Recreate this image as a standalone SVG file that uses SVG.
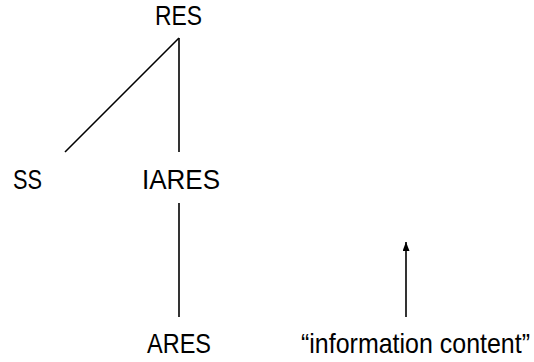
<svg xmlns="http://www.w3.org/2000/svg" width="534" height="362" viewBox="0 0 534 362">
<style>
text{font-family:"Liberation Sans",Arial,sans-serif;font-size:28px;fill:#000}
.c{stroke:#000;stroke-width:1.6;fill:none}
</style>
<defs>
<marker id="ah" markerWidth="10" markerHeight="10" refX="9" refY="3.5" orient="auto" markerUnits="userSpaceOnUse">
<path d="M0,0 L9,3.5 L0,7 Z" fill="#000"/>
</marker>
</defs>
<rect width="534" height="362" fill="#fff"/>
<g id="connectors">
<line class="c" x1="179" y1="38" x2="65" y2="152"/>
<line class="c" x1="179" y1="38" x2="179" y2="152"/>
<line class="c" x1="179" y1="203" x2="179" y2="317"/>
<line class="c" x1="406" y1="317" x2="406" y2="242" marker-end="url(#ah)"/>
</g>
<g id="RES"><text x="155" y="25" textLength="47" lengthAdjust="spacingAndGlyphs">RES</text></g>
<g id="SS"><text x="13" y="189" textLength="29" lengthAdjust="spacingAndGlyphs">SS</text></g>
<g id="IARES"><text x="142" y="189" textLength="78" lengthAdjust="spacingAndGlyphs">IARES</text></g>
<g id="ARES"><text x="147" y="353" textLength="64" lengthAdjust="spacingAndGlyphs">ARES</text></g>
<g id="info"><text x="301" y="353" textLength="229" lengthAdjust="spacingAndGlyphs">“information content”</text></g>
</svg>
